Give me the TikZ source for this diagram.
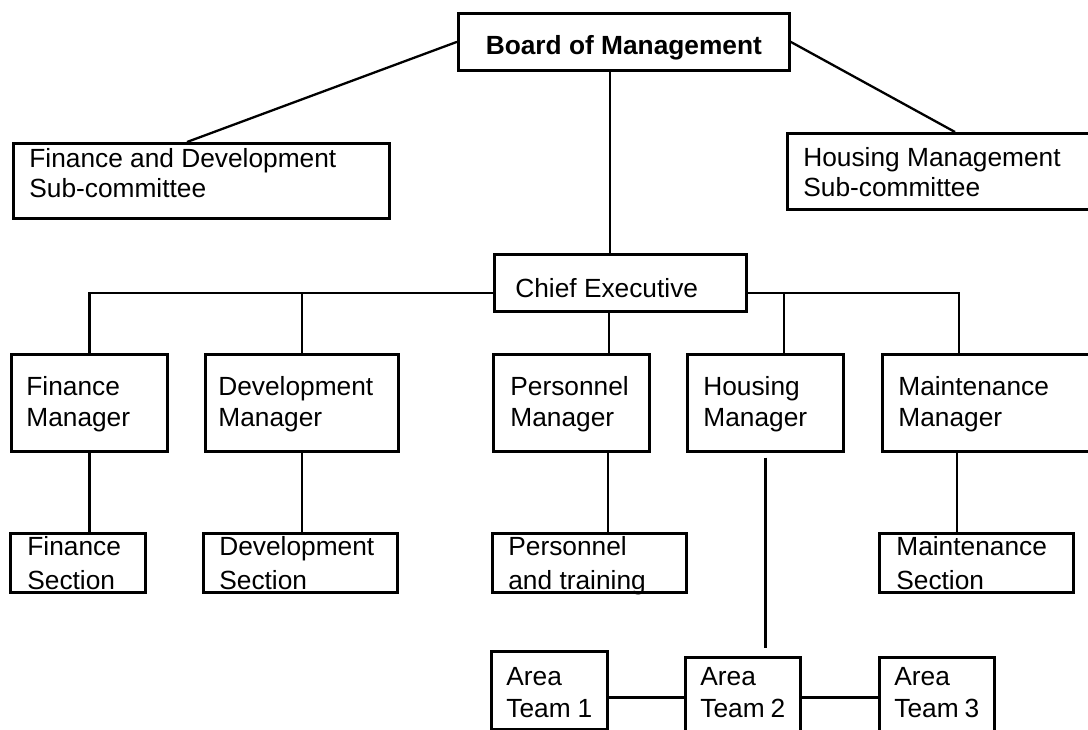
\documentclass[tikz,border=0pt]{standalone}
\usepackage{fontspec}
\setmainfont{Liberation Sans}
\newcommand{\orgfont}{\fontsize{13.15pt}{15pt}\selectfont}
\newcommand{\orglines}[3]{\parbox[t]{#1}{\setlength{\baselineskip}{#2}#3}}
\tikzset{
  obox/.style={draw, line width=1.35pt, anchor=north west, inner ysep=0pt, font=\orgfont},
  link/.style={line width=1.15pt}
}
\begin{document}
\begin{tikzpicture}[x=0.5pt,y=-0.5pt]
\useasboundingbox (0,0) rectangle (1088,729);
\fill[white] (0,0) rectangle (1088,729);
\clip (0,0) rectangle (1088,729);

% top level
\node[obox, minimum width=165.5pt, inner xsep=0pt, text height=20.5pt, text depth=8pt, font=\orgfont\bfseries] (bom) at (457,12) {Board of Management};
\node[obox, inner xsep=8pt, text height=12pt, text depth=25.5pt] (fd) at (12,142) {\orglines{172pt}{15pt}{Finance and Development\\Sub-committee}};
\node[obox, inner xsep=8pt, text height=16.5pt, text depth=21.5pt] (hmc) at (786,132) {\orglines{144pt}{15pt}{Housing Management\\Sub-committee}};
\node[obox, inner xsep=10.5pt, text height=21.5pt, text depth=7pt] (ce) at (493,253) {\orglines{105pt}{15pt}{Chief Executive}};

% managers
\node[obox, inner xsep=7.5pt, text height=20.5pt, text depth=28pt] (fm) at (10,353) {\orglines{63pt}{15.5pt}{Finance\\Manager}};
\node[obox, inner xsep=6.5pt, text height=20.5pt, text depth=28pt] (dm) at (204,353) {\orglines{83.5pt}{15.5pt}{Development\\Manager}};
\node[obox, inner xsep=8.5pt, text height=20.5pt, text depth=28pt] (pm) at (492,353) {\orglines{61pt}{15.5pt}{Personnel\\Manager}};
\node[obox, inner xsep=8pt, text height=20.5pt, text depth=28pt] (hm) at (686,353) {\orglines{62pt}{15.5pt}{Housing\\Manager}};
\node[obox, inner xsep=8pt, text height=20.5pt, text depth=28pt] (mm) at (881,353) {\orglines{99pt}{15.5pt}{Maintenance\\Manager}};

% sections
\node[obox, inner xsep=8.5pt, text height=11pt, text depth=18.5pt] (fs) at (9,532) {\orglines{50.5pt}{17pt}{Finance\\Section}};
\node[obox, inner xsep=8pt, text height=11pt, text depth=18.5pt] (ds) at (202,532) {\orglines{81pt}{17pt}{Development\\Section}};
\node[obox, inner xsep=8pt, text height=11pt, text depth=18.5pt] (ps) at (491,532) {\orglines{81pt}{17pt}{Personnel\\and~training}};
\node[obox, inner xsep=8.5pt, text height=11pt, text depth=18.5pt] (ms) at (878,532) {\orglines{80pt}{17pt}{Maintenance\\Section}};

% area teams
\node[obox, inner xsep=7.5pt, text height=17pt, text depth=22pt] (at1) at (490,650) {\orglines{43pt}{16pt}{Area\\Team~1}};
\node[obox, inner xsep=7.5pt, text height=14pt, text depth=26pt] (at2) at (684,656) {\orglines{42.5pt}{16pt}{Area\\Team~2}};
\node[obox, inner xsep=7.5pt, text height=14pt, text depth=26pt] (at3) at (878,656) {\orglines{42.5pt}{16pt}{Area\\Team~3}};

% helper coordinates
\coordinate (busy) at (0,293);
\coordinate (bomx) at ([xshift=76.5pt]bom.south west);
\coordinate (cex) at ([xshift=58pt]ce.south west);
\coordinate (hmx) at ([xshift=49pt]hm.north west);
\coordinate (mmtx) at ([xshift=39pt]mm.north west);
\coordinate (pmx) at ([xshift=58pt]pm.south west);
\coordinate (mmbx) at ([xshift=38pt]mm.south west);

% connectors
\draw[link] (bom.west) -- ([xshift=87.5pt]fd.north west);
\draw[link] (bom.east) -- ([xshift=84.5pt]hmc.north west);
\draw[link] (bomx) -- (bomx |- ce.north);
\draw[link] (busy -| ce.west) -| (fm.north);
\draw[link] (busy -| dm.north) -- (dm.north);
\draw[link] (busy -| ce.east) -| (mmtx);
\draw[link] (busy -| hmx) -- (hmx);
\draw[link] (cex) -- (cex |- pm.north);
\draw[link] (fm.south) -- (fm.south |- fs.north);
\draw[link] (dm.south) -- (dm.south |- ds.north);
\draw[link] (pmx) -- (pmx |- ps.north);
\draw[link, shorten <=2.5pt, shorten >=4pt] (hm.south) -- (hm.south |- at2.north);
\draw[link] (mmbx) -- (mmbx |- ms.north);
\draw[link] (at1.east |- at2.west) -- (at2.west);
\draw[link] (at2.east) -- (at3.west);
\end{tikzpicture}
\end{document}
